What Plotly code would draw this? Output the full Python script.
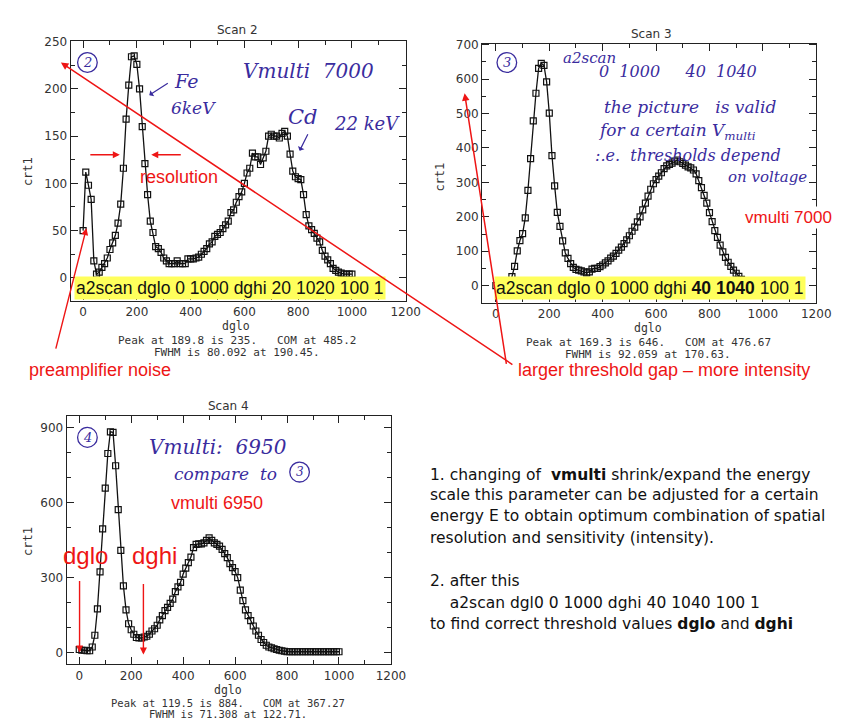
import plotly.graph_objects as go

W, H = 845, 720

# ---------------- data ----------------
dglo = list(range(0, 1001, 10))

scan2_crt = [50, 112, 98, 83, 18, 4, 6, 11, 15, 21,
             30, 37, 45, 58, 78, 116, 168, 204, 234, 235,
             226, 200, 160, 121, 88, 60, 48, 33, 31, 27,
             21, 18, 15, 15, 15, 18, 15, 15, 15, 20,
             20, 20, 21, 22, 25, 28, 31, 36, 38, 44,
             46, 48, 52, 56, 60, 69, 72, 80, 86, 91,
             100, 111, 116, 132, 128, 128, 120, 127, 134, 150,
             152, 150, 150, 148, 153, 155, 150, 131, 113, 107,
             105, 104, 88, 67, 55, 51, 47, 42, 38, 29,
             23, 19, 15, 10, 8, 6, 5, 4, 4, 4, 4]

scan3_crt = [0, 0, 0, 0, 3, 10, 26, 56, 101, 131,
             151, 197, 277, 369, 479, 559, 631, 646, 640, 592,
             501, 378, 290, 213, 172, 130, 95, 79, 64, 53,
             47, 45, 43, 40, 37, 40, 48, 50, 50, 55,
             60, 66, 72, 80, 86, 94, 103, 112, 122, 133,
             145, 158, 170, 185, 200, 220, 240, 260, 280, 296,
             308, 318, 328, 340, 348, 352, 356, 362, 365, 360,
             355, 350, 345, 342, 336, 325, 305, 285, 262, 240,
             212, 186, 160, 140, 118, 98, 82, 68, 56, 45,
             36, 27, 18, 12, 7, 4, 2, 1, 1, 0, 0]

scan4_crt = [12, 9, 9, 7, 7, 22, 69, 175, 323, 495,
             658, 797, 884, 882, 748, 572, 409, 267, 171, 115,
             91, 73, 60, 58, 58, 62, 65, 73, 86, 95,
             109, 131, 148, 168, 181, 197, 214, 244, 263, 281,
             314, 338, 360, 382, 420, 433, 435, 435, 439, 449,
             459, 449, 439, 433, 426, 413, 396, 380, 356, 340,
             324, 300, 250, 208, 171, 148, 128, 106, 86, 69,
             52, 40, 29, 22, 19, 15, 12, 9, 7, 5,
             3, 3, 3, 3, 3, 3, 3, 3, 3, 3,
             3, 3, 3, 3, 3, 3, 3, 3, 3, 3, 3]

x_ticks = [0, 200, 400, 600, 800, 1000, 1200]
scan2_yticks = [0, 50, 100, 150, 200, 250]
scan3_yticks = [0, 100, 200, 300, 400, 500, 600, 700]
scan4_yticks = [0, 300, 600, 900]

titles = ["Scan 2", "Scan 3", "Scan 4"]
stats = [("Peak at 189.8 is 235.   COM at 485.2", "FWHM is 80.092 at 190.45."),
         ("Peak at 169.3 is 646.   COM at 476.67", "FWHM is 92.059 at 170.63."),
         ("Peak at 119.5 is 884.   COM at 367.27", "FWHM is 71.308 at 122.71.")]

# ---------------- helpers ----------------
def px(x):
    return x / W

def py(y):
    return 1 - y / H

RED = "#ee1515"
PEN = "#3a2c9e"
AXC = "#222222"
MONO = "DejaVu Sans Mono"

fig = go.Figure()

panels = [
    dict(x0=72, x1=413, y0=35, y1=297, xr=[-46, 1200], yr=[-24, 251], yt=scan2_yticks, ymin=25, data=scan2_crt),
    dict(x0=491, x1=831, y0=38, y1=299, xr=[-51, 1200], yr=[-49, 703], yt=scan3_yticks, ymin=50, data=scan3_crt),
    dict(x0=68, x1=398, y0=413, y1=664, xr=[-48, 1200], yr=[-48, 949], yt=scan4_yticks, ymin=100, data=scan4_crt),
]

layout = dict()
for i, p in enumerate(panels):
    n = "" if i == 0 else str(i + 1)
    fig.add_trace(go.Scatter(
        x=dglo, y=p["data"], mode="lines+markers",
        xaxis="x" + n, yaxis="y" + n,
        line=dict(color="#111111", width=1.3),
        marker=dict(symbol="square-open", size=6, color="#111111", line=dict(width=1.2)),
        showlegend=False, hoverinfo="skip"))
    common = dict(showline=True, mirror="allticks", linecolor=AXC, linewidth=1.3,
                  ticks="inside", ticklen=7, tickcolor=AXC, showgrid=False, zeroline=False,
                  tickfont=dict(family="DejaVu Sans", size=12, color="#333333"))
    layout["xaxis" + n] = dict(domain=[px(p["x0"]), px(p["x1"])], range=p["xr"],
                               anchor="y" + n, tickvals=x_ticks,
                               minor=dict(dtick=100, tick0=0, ticks="inside", ticklen=4, tickcolor=AXC),
                               **common)
    layout["yaxis" + n] = dict(domain=[py(p["y1"]), py(p["y0"])], range=p["yr"],
                               anchor="x" + n, tickvals=p["yt"],
                               minor=dict(dtick=p["ymin"], tick0=0, ticks="inside", ticklen=4, tickcolor=AXC),
                               **common)

fig.update_layout(**layout)

ann = []

def text(x, y, s, size=12, color="#222", family=MONO, xanchor="center", bg=None, angle=0, yanchor="middle"):
    d = dict(x=px(x), y=py(y), xref="paper", yref="paper", text=s, showarrow=False,
             font=dict(size=size, color=color, family=family), xanchor=xanchor, yanchor=yanchor,
             textangle=angle)
    if bg:
        d.update(bgcolor=bg, borderpad=1)
    ann.append(d)

def arrow(hx, hy, tx, ty, color=RED, width=1.5, head=2, size=1.0):
    ann.append(dict(x=px(hx), y=py(hy), xref="paper", yref="paper", ax=tx - hx, ay=ty - hy,
                    axref="pixel", ayref="pixel", text="", showarrow=True, arrowhead=head,
                    arrowsize=size, arrowwidth=width, arrowcolor=color, standoff=0,
                    font=dict(size=10)))

# titles, axis titles, stats
title_pos = [(242, 24), (663, 28), (233, 403)]
dglo_pos = [(240, 323), (660, 325), (232, 690)]
stat_pos = [(241, 337, 349.5), (660, 339, 351.5), (232, 703, 714)]
crt_pos = [(28, 167), (448, 173), (28, 540)]
for i in range(3):
    text(*title_pos[i], titles[i], size=12, family="DejaVu Sans", color="#333")
    text(*dglo_pos[i], "dglo", size=11.5, color="#333")
    text(stat_pos[i][0], stat_pos[i][1], stats[i][0], size=11 if i < 2 else 10.5, color="#333")
    text(stat_pos[i][0], stat_pos[i][2], stats[i][1], size=11 if i < 2 else 10.5, color="#333")
    text(*crt_pos[i], "crt1", size=12, color="#333", angle=-90)

# yellow command boxes
YEL = "#ffff5c"
text(234, 284, "a2scan dglo 0 1000 dghi 20 1020 100 1", size=17.5, color="#111",
     family="Liberation Sans", bg=YEL)
text(662, 284, "a2scan dglo 0 1000 dghi <b>40 1040</b> 100 1", size=17.5, color="#111",
     family="Liberation Sans", bg=YEL)

# red annotations
text(182, 172, "resolution", size=18, color=RED, family="Liberation Sans")
arrow(122, 150, 91, 150, width=1.4)
arrow(154, 150, 185, 150, width=1.4)
text(102, 367, "preamplifier noise", size=18, color=RED, family="Liberation Sans")
arrow(88, 224, 57, 346, width=1.4)
arrow(62, 57, 515, 360, width=1.5)
arrow(473, 88, 515, 360, width=1.5)
text(676, 367, "larger threshold gap \u2013 more intensity", size=18, color=RED, family="Liberation Sans")
text(803, 213, "vmulti 7000", size=17, color=RED, family="Liberation Sans", bg="white")
text(221, 501, "vmulti 6950", size=18, color=RED, family="Liberation Sans")
text(87, 554, "dglo", size=24, color=RED, family="Liberation Sans")
text(157, 554, "dghi", size=24, color=RED, family="Liberation Sans")
arrow(81, 652, 81, 579, width=1.4)
arrow(146, 654, 146, 582, width=1.4)

# handwriting-like notes
HW = "DejaVu Serif"
def hw(x, y, s, size=17):
    text(x, y, "<i>" + s + "</i>", size=size, color=PEN, family=HW)

shapes = []
def circ(cx, cy, r=10):
    shapes.append(dict(type="circle", xref="paper", yref="paper",
                       x0=px(cx - r), x1=px(cx + r), y0=py(cy + r), y1=py(cy - r),
                       line=dict(color=PEN, width=1.3)))

circ(89, 57); hw(89, 57, "2", 13)
hw(189, 76, "Fe", 19)
arrow(152, 90, 172, 77, color=PEN, width=1.2, head=1)
hw(197, 103, "6keV", 17)
hw(314, 66, "Vmulti  7000", 20)
hw(308, 112, "Cd", 21)
hw(374, 118, "22 keV", 18)
arrow(305, 146, 314, 128, color=PEN, width=1.2, head=1)

circ(516, 57); hw(516, 57, "3", 13)
hw(600, 52, "a2scan", 15)
hw(690, 66, "0  1000     40  1040", 16)
hw(702, 102, "the picture   is valid", 17)
hw(689, 127, "for a certain V<sub>multi</sub>", 17)
hw(700, 151, ":.e.  thresholds depend", 16)
hw(781, 172, "on voltage", 15)

circ(89, 435); hw(89, 435, "4", 13)
hw(222, 445, "Vmulti:  6950", 20)
hw(230, 472, "compare  to", 17)
circ(305, 470, 10); hw(305, 470, "3", 12)

# explanation text block
lines = [
    (473, "1. changing of  <b>vmulti</b> shrink/expand the energy"),
    (493, "scale this parameter can be adjusted for a certain"),
    (514, "energy E to obtain optimum combination of spatial"),
    (536, "resolution and sensitivity (intensity)."),
    (580, "2. after this"),
    (602, "    a2scan dgl0 0 1000 dghi 40 1040 100 1"),
    (623, "to find correct threshold values <b>dglo</b> and <b>dghi</b>"),
]
for y, s in lines:
    text(436, y, s.replace("    ", "&nbsp;&nbsp;&nbsp;&nbsp;"), size=15.5, color="#111",
         family="DejaVu Sans", xanchor="left")

fig.update_layout(width=W, height=H, margin=dict(l=0, r=0, t=0, b=0),
                  paper_bgcolor="white", plot_bgcolor="white",
                  annotations=ann, shapes=shapes)

fig.write_html("out.html")
